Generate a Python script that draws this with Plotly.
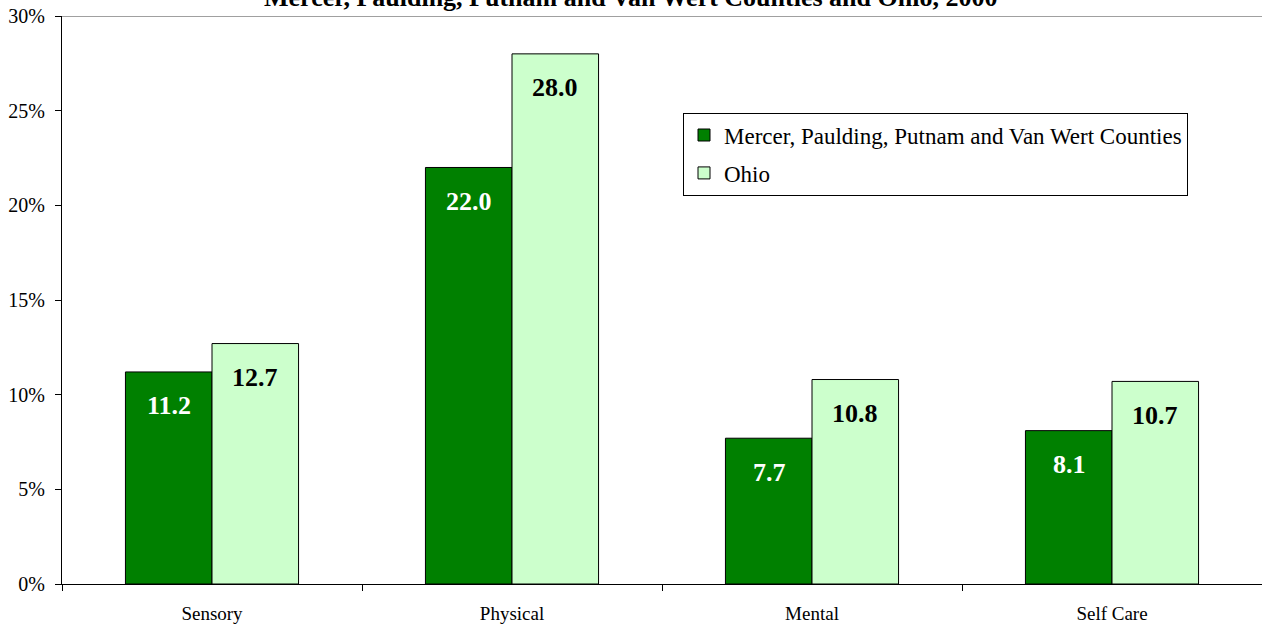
"""
Disability types bar chart: Mercer, Paulding, Putnam and Van Wert Counties vs Ohio.
"""

import plotly.graph_objects as go

CATEGORIES = ["Sensory", "Physical", "Mental", "Self Care"]
COUNTIES_NAME = "Mercer, Paulding, Putnam and Van Wert Counties"
OHIO_NAME = "Ohio"
COUNTIES_VALUES = [11.2, 22.0, 7.7, 8.1]
OHIO_VALUES = [12.7, 28.0, 10.8, 10.7]
TITLE = "Mercer, Paulding, Putnam and Van Wert Counties and Ohio, 2000"

SERIF = "Times New Roman, Liberation Serif, serif"
DARK = "#008000"
LIGHT = "#CCFFCC"

fig = go.Figure()

fig.add_trace(go.Bar(
    x=CATEGORIES, y=COUNTIES_VALUES, name=COUNTIES_NAME, legendgroup="a",
    marker=dict(color=DARK, line=dict(color="black", width=1)),
))
fig.add_trace(go.Bar(
    x=CATEGORIES, y=OHIO_VALUES, name=OHIO_NAME, legendgroup="b",
    marker=dict(color=LIGHT, line=dict(color="black", width=1)),
))

# Value labels sit a fixed distance below each bar top.
for vals, shift, colour in ((COUNTIES_VALUES, -43, "white"),
                            (OHIO_VALUES, 43, "black")):
    for cat, v in zip(CATEGORIES, vals):
        fig.add_annotation(
            x=cat, y=v, xref="x", yref="y",
            text=f"<b>{v:.1f}</b>", showarrow=False,
            xshift=shift, yshift=-34, yanchor="middle",
            font=dict(family=SERIF, size=26, color=colour),
        )

# Title, partly cut off at the top edge as in the source.
fig.add_annotation(
    x=0.474, y=1, xref="paper", yref="paper",
    text=f"<b>{TITLE}</b>", showarrow=False,
    yanchor="middle", yshift=19,
    font=dict(family=SERIF, size=26, color="black"),
)

# Grey line along the top of the plot area.
fig.add_shape(type="line", xref="paper", yref="y",
              x0=0, x1=1, y0=30, y1=30,
              line=dict(color="#808080", width=1.5))

fig.update_layout(
    width=1262, height=626,
    margin=dict(l=62, r=0, t=16, b=42),
    paper_bgcolor="white", plot_bgcolor="white",
    barmode="group", bargap=0.423, bargroupgap=0,
    font=dict(family=SERIF, size=19, color="black"),
    legend=dict(
        x=0.5175, y=0.83, xanchor="left", yanchor="top",
        bordercolor="black", borderwidth=1, bgcolor="white",
        font=dict(family=SERIF, size=23, color="black"),
        tracegroupgap=5, itemwidth=30,
    ),
)
fig.update_xaxes(
    showline=True, linecolor="black", linewidth=1,
    ticks="outside", ticklen=6, tickcolor="black", tickson="boundaries",
    tickfont=dict(family=SERIF, size=19), showgrid=False,
    ticklabelstandoff=12,
)
fig.update_yaxes(
    range=[0, 30], dtick=5, ticksuffix="%",
    showline=True, linecolor="black", linewidth=1,
    ticks="outside", ticklen=6, tickcolor="black",
    tickfont=dict(family=SERIF, size=20), showgrid=False, zeroline=False,
    ticklabelstandoff=6,
)

# Drop the page's default body margin so the chart sits at the top-left.
fig.write_html(
    "out.html",
    config={"displayModeBar": False},
    post_script="document.body.style.margin='0';",
)
